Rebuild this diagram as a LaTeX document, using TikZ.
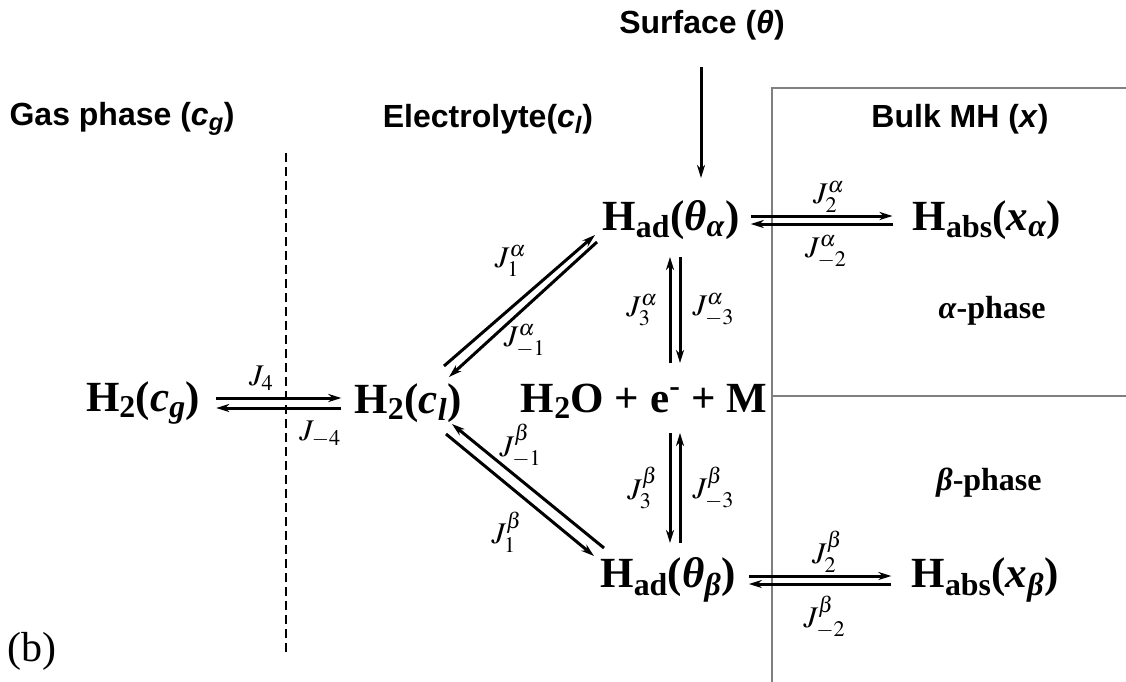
\documentclass[tikz,border=0pt]{standalone}
\usepackage{mathptmx}
\usepackage{fontspec}
\setmainfont{Liberation Serif}
\newfontfamily\headfont{Liberation Sans}
\usetikzlibrary{calc,arrows.meta,positioning}

\begin{document}
\begin{tikzpicture}[x=1pt,y=-1pt,
    species/.style={font=\fontsize{43}{46}\selectfont\bfseries,inner sep=2pt},
    region/.style={font=\headfont\bfseries\fontsize{32}{35}\selectfont},
    phase/.style={font=\fontsize{32}{35}\selectfont\bfseries},
    rate/.style={font=\fontsize{30}{33}\selectfont,inner sep=0pt},
    flux/.style={line width=3pt,-{Stealth[length=13pt,width=8pt,inset=4pt]}},
    wall/.style={draw=gray,line width=1.6pt}]
    \useasboundingbox (0,0) rectangle (1126,682);

    % region headings
    \node[region] (surf) at (702,25) {Surface (\textit{θ})};
    \node[region] (gas) at (122,119) {Gas phase (\textit{c}\textsubscript{\textit{g}})};
    \node[region] (elec) at (488,119) {Electrolyte(\textit{c}\textsubscript{\textit{l}})};
    \node[region] (bulk) at (960,119) {Bulk MH (\textit{x})};

    % bulk box and phase boundary
    \draw[wall] (1126,88) -- (772,88) -- (772,682);
    \draw[wall] (772,396) -- (1126,396);
    \draw[line width=1.6pt,dash pattern=on 9pt off 5pt] (286,153) -- (286,652);

    % species
    \node[species] (H2g) at (143,403) {H\textsubscript{2}(\textit{c}\textsubscript{\textit{g}})};
    \node[species] (H2l) at (408,403) {H\textsubscript{2}(\textit{c}\textsubscript{\textit{l}})};
    \node[species] (wat) at (644,401) {H\textsubscript{2}O + e\textsuperscript{-} + M};
    \node[species] (Hada) at (671,220) {H\textsubscript{ad}(\textit{θ}\textsubscript{\textit{α}})};
    \node[species] (Habsa) at (987,220) {H\textsubscript{abs}(\textit{x}\textsubscript{\textit{α}})};
    \node[species] (Hadb) at (668,580) {H\textsubscript{ad}(\textit{θ}\textsubscript{\textit{β}})};
    \node[species] (Habsb) at (985,580) {H\textsubscript{abs}(\textit{x}\textsubscript{\textit{β}})};
    \node[phase] (pha) at (992,311) {\textit{α}-phase};
    \node[phase] (phb) at (989,483) {\textit{β}-phase};
    \node[font=\fontsize{42}{46}\selectfont] (tag) at (32,651) {(b)};

    % surface arrow
    \coordinate (stop) at ($(surf.south)+(-1,24)$);
    \draw[flux] (stop) -- ($(Hada)+(30,-42)$);

    % gas -- electrolyte
    \draw[flux] ([xshift=14pt,yshift=5pt]H2g.east) -- node[rate,pos=.36,above=6pt] {$J_{4}$} ([xshift=-11pt,yshift=5pt]H2l.west);
    \draw[flux] ([xshift=-11pt,yshift=-5pt]H2l.west) -- node[rate,pos=.17,below=12pt] {$J_{-4}$} ([xshift=14pt,yshift=-5pt]H2g.east);

    % electrolyte -- surface
    \draw[flux] ($(H2l)+(36,-37)$) -- node[rate,pos=.44,above=30pt] {$J^{\alpha}_{1}$} ($(Hada)+(-76,15)$);
    \draw[flux] ($(Hada)+(-74,22)$) -- node[rate,pos=.49,below=15pt] {$J^{\alpha}_{-1}$} ($(H2l)+(41,-26)$);
    \draw[flux] ($(Hadb)+(-64,-32)$) -- node[rate,pos=.55,above=11pt] {$J^{\beta}_{-1}$} ($(H2l)+(44,21)$);
    \draw[flux] ($(H2l)+(38,31)$) -- node[rate,pos=.41,below=26pt] {$J^{\beta}_{1}$} ($(Hadb)+(-74,-24)$);

    % surface -- water
    \draw[flux] ($(wat)+(26,-38)$) -- node[rate,left=11pt] {$J^{\alpha}_{3}$} ($(Hada)+(-1,37)$);
    \draw[flux] ($(Hada)+(9,37)$) -- node[rate,right=11pt] {$J^{\alpha}_{-3}$} ($(wat)+(36,-38)$);
    \draw[flux] ($(wat)+(26,32)$) -- node[rate,left=11pt] {$J^{\beta}_{3}$} ($(Hadb)+(2,-37)$);
    \draw[flux] ($(Hadb)+(12,-37)$) -- node[rate,right=11pt] {$J^{\beta}_{-3}$} ($(wat)+(36,32)$);

    % surface -- bulk
    \draw[flux] ([xshift=9pt,yshift=4pt]Hada.east) -- node[rate,pos=.55,above=2pt] {$J^{\alpha}_{2}$} ([xshift=-18pt,yshift=4pt]Habsa.west);
    \draw[flux] ([xshift=-18pt,yshift=-4pt]Habsa.west) -- node[rate,pos=.47,below=10pt] {$J^{\alpha}_{-2}$} ([xshift=9pt,yshift=-4pt]Hada.east);
    \draw[flux] ([xshift=11pt,yshift=4pt]Hadb.east) -- node[rate,pos=.55,above=2pt] {$J^{\beta}_{2}$} ([xshift=-18pt,yshift=4pt]Habsb.west);
    \draw[flux] ([xshift=-18pt,yshift=-4pt]Habsb.west) -- node[rate,pos=.47,below=10pt] {$J^{\beta}_{-2}$} ([xshift=11pt,yshift=-4pt]Hadb.east);
\end{tikzpicture}
\end{document}
